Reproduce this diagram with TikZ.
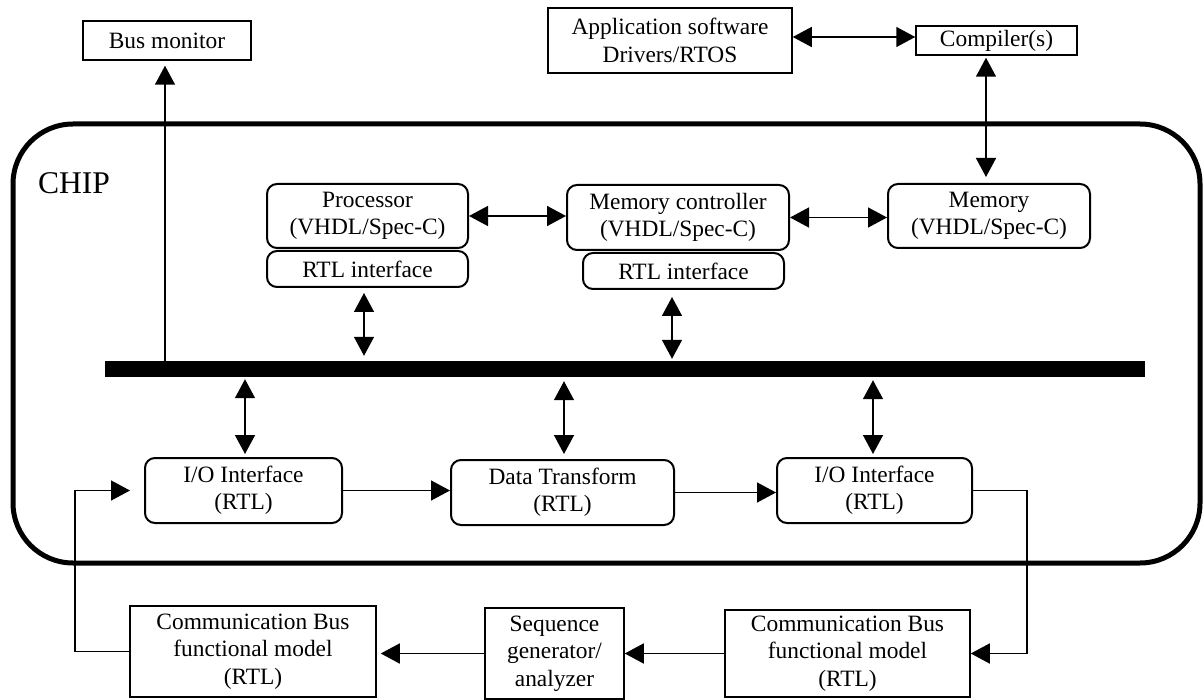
\documentclass[tikz,border=0pt]{standalone}
\usepackage{fontspec}
\setmainfont{Liberation Serif}
\usetikzlibrary{arrows.meta}
\tikzset{
  base/.style={draw, line width=1.5pt, inner sep=0pt, align=center, font=\fontsize{23.4}{27.5}\selectfont},
  sqbox/.style={base},
  rbox/.style={base, line width=2pt, rounded corners=10pt},
  conn/.style={line width=1.5pt},
  tip/.style={-{Triangle[length=19pt,width=20pt]}},
  dtip/.style={{Triangle[length=19pt,width=20pt]}-{Triangle[length=19pt,width=20pt]}},
}
\begin{document}
\begin{tikzpicture}[x=1pt,y=-1pt]
\useasboundingbox (0,0) rectangle (1204,700);
% chip outline
\draw[line width=5pt, rounded corners=60pt] (13,124) rectangle (1200,563);
\node[inner sep=0pt, font=\fontsize{31.6}{36}\selectfont] (chiplabel) at (74,183) {CHIP};
% top boxes
\node[sqbox, minimum width=168pt, minimum height=39pt] (busmon) at (167,40.5) {Bus monitor};
\node[sqbox, minimum width=244pt, minimum height=65pt] (app) at (670,40.5) {Application software\\Drivers/RTOS};
\node[sqbox, minimum width=161pt, minimum height=29pt] (comp) at (996.5,40.5) {Compiler(s)};
% chip internal boxes
\node[rbox, minimum width=201pt, minimum height=64pt] (proc) at (367.5,216) {Processor\\(VHDL/Spec-C)};
\node[rbox, minimum width=201pt, minimum height=36pt] (rtl1) at (367.5,269) {RTL interface};
\node[rbox, minimum width=222pt, minimum height=65pt] (mc) at (678,217.5) {Memory controller\\(VHDL/Spec-C)};
\node[rbox, minimum width=201pt, minimum height=36pt] (rtl2) at (683.5,271) {RTL interface};
\node[rbox, minimum width=202pt, minimum height=64pt] (mem) at (989,216) {Memory\\(VHDL/Spec-C)};
\node[fill=black, draw=none, inner sep=0pt, minimum width=1040pt, minimum height=16pt] (bus) at (625,369) {};
\node[rbox, minimum width=197pt, minimum height=65pt] (io1) at (243.5,490.5) {I/O Interface\\(RTL)};
\node[rbox, minimum width=223pt, minimum height=65pt] (dt) at (562.5,492.5) {Data Transform\\(RTL)};
\node[rbox, minimum width=195pt, minimum height=65pt] (io2) at (874.5,490.5) {I/O Interface\\(RTL)};
% bottom boxes
\node[sqbox, minimum width=246pt, minimum height=91pt] (cb1) at (253,651.5) {Communication Bus\\functional model\\(RTL)};
\node[sqbox, minimum width=139pt, minimum height=91pt] (seq) at (554.5,653.5) {Sequence\\generator/\\analyzer};
\node[sqbox, minimum width=245pt, minimum height=87pt] (cb2) at (847.5,653.5) {Communication Bus\\functional model\\(RTL)};
% column coordinates
\coordinate (xbm) at (165,0);
\coordinate (xcm) at (986,0);
\coordinate (xr1) at (364,0);
\coordinate (xr2) at (672,0);
\coordinate (xio1) at (245,0);
\coordinate (xdt) at (564,0);
\coordinate (xio2) at (873,0);
\coordinate (xret) at (1027,0);
\coordinate (xlft) at (75,0);
% connectors
\draw[conn,tip,shorten >=5pt] (bus.north -| xbm) -- (busmon.south -| xbm);
\draw[conn,dtip] ([yshift=3.5pt]app.east) -- ([yshift=3.5pt]comp.west);
\draw[conn,dtip,shorten <=2pt,shorten >=6pt] (comp.south -| xcm) -- (mem.north -| xcm);
\draw[conn,dtip] (proc.east) -- (proc.east -| mc.west);
\draw[conn,dtip] (mc.east) -- (mc.east -| mem.west);
\draw[conn,dtip,shorten <=5pt,shorten >=5pt] (rtl1.south -| xr1) -- (bus.north -| xr1);
\draw[conn,dtip,shorten <=7pt,shorten >=2pt] (rtl2.south -| xr2) -- (bus.north -| xr2);
\draw[conn,dtip,shorten <=2pt,shorten >=3pt] (bus.south -| xio1) -- (io1.north -| xio1);
\draw[conn,dtip,shorten <=4pt,shorten >=5pt] (bus.south -| xdt) -- (dt.north -| xdt);
\draw[conn,dtip,shorten <=3pt,shorten >=3pt] (bus.south -| xio2) -- (io2.north -| xio2);
\draw[conn,tip] (io1.east) -- (io1.east -| dt.west);
\draw[conn,tip] (dt.east) -- (dt.east -| io2.west);
\draw[conn,tip] (io2.east) -- (io2.east -| xret) -- (xret |- cb2.east) -- (cb2.east);
\draw[conn,tip] (cb2.west) -- (cb2.west -| seq.east);
\draw[conn,tip,shorten >=4pt] (seq.west) -- (seq.west -| cb1.east);
\draw[conn,tip,shorten >=14pt] (cb1.west) -- (cb1.west -| xlft) -- (xlft |- io1.west) -- (io1.west);
\end{tikzpicture}
\end{document}
